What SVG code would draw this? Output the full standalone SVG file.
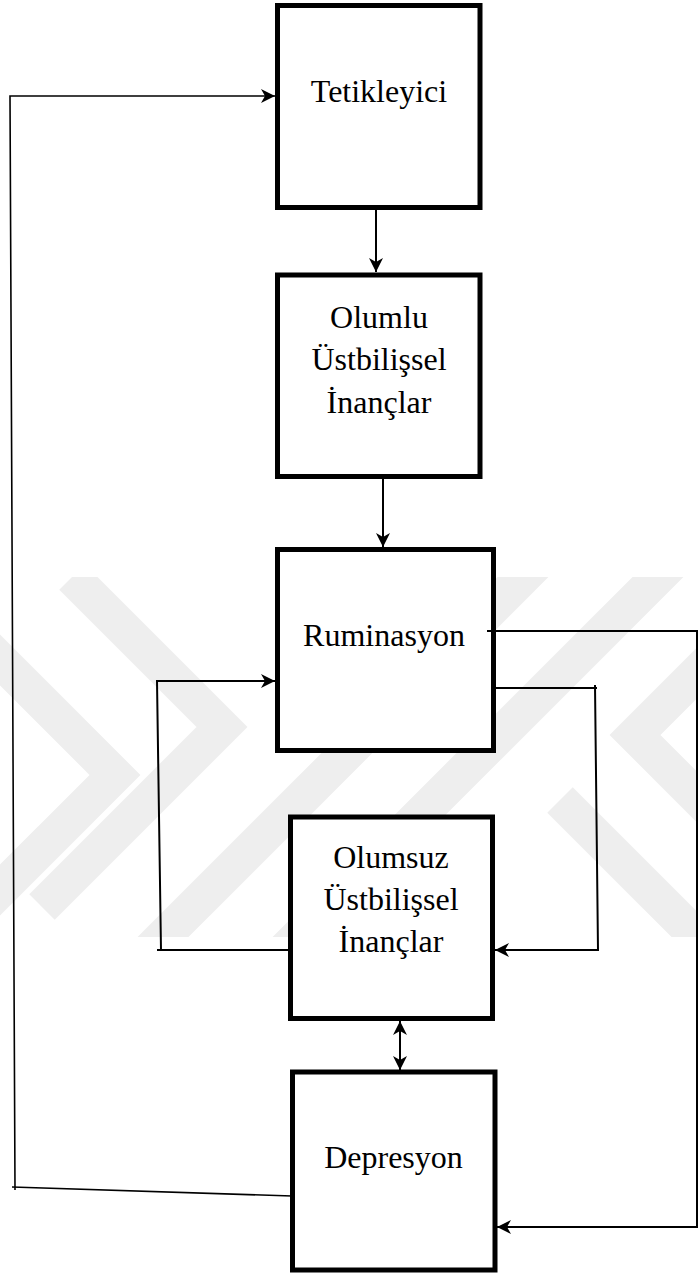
<svg xmlns="http://www.w3.org/2000/svg" width="698" height="1280" viewBox="0 0 698 1280">
  <defs>
    <style>
      .box { fill: #ffffff; stroke: #000000; stroke-width: 5; }
      .lbl { font-family: "Liberation Serif", "Times New Roman", serif; font-size: 32px; fill: #000000; text-anchor: middle; }
      .wire { fill: none; stroke: #000000; stroke-width: 2; }
      .thin { fill: none; stroke: #000000; stroke-width: 1.6; }
      .band { fill: none; stroke: #eeeeee; stroke-width: 36; stroke-linejoin: miter; stroke-linecap: butt; }
    </style>
    <marker id="head" markerUnits="userSpaceOnUse" markerWidth="16" markerHeight="16" refX="14" refY="7" orient="auto-start-reverse">
      <path d="M0,0 L14,7 L0,14 L4,7 Z" fill="#000000"/>
    </marker>
    <clipPath id="mark-clip">
      <rect x="0" y="577" width="698" height="360"/>
    </clipPath>
  </defs>

  <rect width="698" height="1280" fill="#ffffff"/>

  <!-- faint background emblem -->
  <g id="watermark" clip-path="url(#mark-clip)">
    <polyline class="band" points="72,577 222,727 42,907"/>
    <polyline class="band" points="-20,640 115,775 -20,910"/>
    <line class="band" x1="140" y1="960" x2="560" y2="540"/>
    <line class="band" x1="275" y1="960" x2="695" y2="540"/>
    <polyline class="band" points="730,640 635,735 730,830"/>
    <line class="band" x1="560" y1="800" x2="720" y2="960"/>
  </g>

  <g id="tetikleyici">
    <rect class="box" x="277.5" y="5.5" width="202.5" height="202"/>
    <text class="lbl" x="379" y="102">Tetikleyici</text>
  </g>

  <g id="olumlu">
    <rect class="box" x="277.5" y="275" width="202.5" height="201.5"/>
    <text class="lbl" x="379" y="328">Olumlu</text>
    <text class="lbl" x="379" y="370">Üstbilişsel</text>
    <text class="lbl" x="379" y="413">İnançlar</text>
  </g>

  <g id="ruminasyon">
    <rect class="box" x="277.5" y="549.5" width="216" height="201"/>
    <text class="lbl" x="384" y="646">Ruminasyon</text>
  </g>

  <g id="olumsuz">
    <rect class="box" x="290.5" y="817" width="202" height="201.5"/>
    <text class="lbl" x="391" y="868">Olumsuz</text>
    <text class="lbl" x="391" y="910">Üstbilişsel</text>
    <text class="lbl" x="391" y="952">İnançlar</text>
  </g>

  <g id="depresyon">
    <rect class="box" x="292.5" y="1072" width="202.5" height="198"/>
    <text class="lbl" x="393.5" y="1168">Depresyon</text>
  </g>

  <!-- connectors, drawn over the box borders -->
  <g id="connectors">
    <line class="wire" x1="376" y1="210" x2="376" y2="272" marker-end="url(#head)"/>
    <line class="wire" x1="383" y1="479" x2="383" y2="547" marker-end="url(#head)"/>
    <polyline class="wire" points="487,631 697,631 697,1227 497,1227" marker-end="url(#head)"/>
    <polyline class="wire" points="495,688 597,688"/>
    <polyline class="wire" points="595,685 598,950 495,950" marker-end="url(#head)"/>
    <polyline class="wire" points="290,950 157,950"/>
    <polyline class="wire" points="161,950 157,681 275,681" marker-end="url(#head)"/>
    <line class="wire" x1="400" y1="1021" x2="400" y2="1070" marker-start="url(#head)" marker-end="url(#head)"/>
    <polyline class="thin" points="292,1196 12,1187"/>
    <polyline class="thin" points="15,1190 10,96 275,96" marker-end="url(#head)"/>
  </g>
</svg>
